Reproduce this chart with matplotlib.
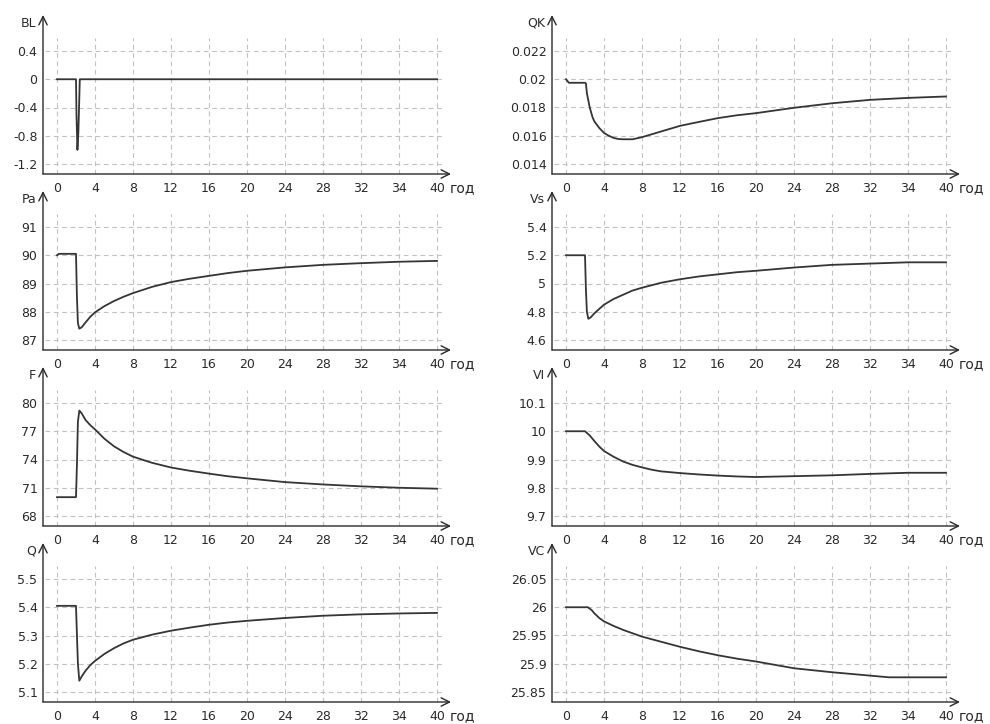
import matplotlib
matplotlib.use('Agg')
import matplotlib.pyplot as plt

plt.rcParams['font.family'] = 'DejaVu Sans'
plt.rcParams['lines.scale_dashes'] = False

# time axis (years)
x_ticks = [0, 4, 8, 12, 16, 20, 24, 28, 32, 36, 40]
x_labels = ['0', '4', '8', '12', '16', '20', '24', '28', '32', '34', '40']

BL_t = [0, 2.0, 2.05, 2.15, 2.25, 2.35, 2.4, 40]
BL = [0, 0, -0.5, -1.0, -0.75, -0.25, 0, 0]
BL_ticks = [-1.2, -0.8, -0.4, 0, 0.4]

QK_t = [0, 0.3, 2.0, 2.1, 2.2, 2.5, 2.8, 3, 3.5, 4, 4.5, 5, 5.5, 6, 7, 8, 10, 12, 14, 16,
        18, 20, 24, 28, 32, 36, 40]
QK = [0.0200, 0.01975, 0.01975, 0.0197, 0.0190, 0.0180, 0.0173, 0.0170, 0.01655, 0.0162,
      0.0160, 0.01585, 0.01577, 0.01575, 0.01575, 0.0159, 0.0163, 0.0167, 0.01698, 0.01725,
      0.01745, 0.0176, 0.01798, 0.0183, 0.01854, 0.01868, 0.01878]
QK_ticks = [0.014, 0.016, 0.018, 0.02, 0.022]

# shared sample times for the step-response curves
S_t = [2.35, 2.6, 3, 3.5, 4, 5, 6, 7, 8, 10, 12, 14, 16, 18, 20, 24, 28, 32, 36, 40]

Pa_t = [0, 0.2, 2.0, 2.1, 2.2] + S_t
Pa = [90.0, 90.05, 90.05, 88.5, 87.6,
      87.4, 87.45, 87.62, 87.82, 87.98, 88.2, 88.38, 88.53, 88.66, 88.88, 89.05, 89.17,
      89.27, 89.37, 89.45, 89.57, 89.66, 89.72, 89.77, 89.8]
Pa_ticks = [87, 88, 89, 90, 91]

Vs_t = [0, 0.2, 2.0, 2.1, 2.2] + S_t
Vs = [5.2, 5.2, 5.2, 4.95, 4.8,
      4.75, 4.76, 4.79, 4.82, 4.85, 4.89, 4.92, 4.95, 4.97, 5.005, 5.03, 5.05, 5.065,
      5.08, 5.09, 5.113, 5.132, 5.141, 5.15, 5.15]
Vs_ticks = [4.6, 4.8, 5, 5.2, 5.4]

F_t = [0, 2.0, 2.1, 2.2] + S_t
F = [70.0, 70.0, 73.5, 78.0,
     79.2, 78.9, 78.2, 77.65, 77.2, 76.2, 75.4, 74.8, 74.3, 73.65, 73.15, 72.8, 72.5,
     72.22, 72.0, 71.6, 71.35, 71.15, 71.0, 70.9]
F_ticks = [68, 71, 74, 77, 80]

VI_t = [0, 2.0, 2.5, 3, 3.5, 4, 5, 6, 7, 8, 9, 10, 12, 14, 16, 18, 20, 24, 28, 32, 36, 40]
VI = [10.0, 10.0, 9.985, 9.965, 9.946, 9.93, 9.91, 9.893, 9.881, 9.872, 9.864, 9.858,
      9.852, 9.847, 9.843, 9.84, 9.838, 9.841, 9.844, 9.849, 9.853, 9.853]
VI_ticks = [9.7, 9.8, 9.9, 10, 10.1]

Q_t = [0, 2.0, 2.1, 2.2] + S_t
Q = [5.405, 5.405, 5.30, 5.20,
     5.14, 5.155, 5.175, 5.195, 5.21, 5.235, 5.255, 5.272, 5.285, 5.303, 5.317, 5.328,
     5.338, 5.346, 5.352, 5.362, 5.37, 5.375, 5.378, 5.38]
Q_ticks = [5.1, 5.2, 5.3, 5.4, 5.5]

VC_t = [0, 2.3, 2.7, 3, 3.5, 4, 5, 6, 7, 8, 10, 12, 14, 16, 18, 20, 24, 28, 32, 34, 40]
VC = [26.0, 26.0, 25.995, 25.989, 25.981, 25.975, 25.967, 25.96, 25.954, 25.948, 25.939,
      25.93, 25.922, 25.915, 25.909, 25.904, 25.892, 25.885, 25.879, 25.876, 25.876]
VC_ticks = [25.85, 25.9, 25.95, 26, 26.05]

panels = [
    (0, 0, 'BL', BL_t, BL, BL_ticks),
    (1, 0, 'QK', QK_t, QK, QK_ticks),
    (0, 1, 'Pa', Pa_t, Pa, Pa_ticks),
    (1, 1, 'Vs', Vs_t, Vs, Vs_ticks),
    (0, 2, 'F', F_t, F, F_ticks),
    (1, 2, 'VI', VI_t, VI, VI_ticks),
    (0, 3, 'Q', Q_t, Q, Q_ticks),
    (1, 3, 'VC', VC_t, VC, VC_ticks),
]

W, H = 990, 724
col_left = [43, 552]          # y axis position, px
row_bottom = [174, 350, 526, 702]  # x axis position, px
ax_w, ax_h = 408, 159
px_x = 9.5     # px per year
px_tick = 28.25  # px between y gridlines

ink = '#2a2a2a'
grid_c = '#c2c2c2'
dash = (0, (3.4, 2.6))

fig = plt.figure(figsize=(W / 100, H / 100), dpi=100)

for col, row, name, t, y, ticks in panels:
    ax = fig.add_axes([col_left[col] / W, 1 - row_bottom[row] / H, ax_w / W, ax_h / H])
    d = ticks[1] - ticks[0]
    x0 = -14 / px_x
    ax.set_xlim(x0, x0 + ax_w / px_x)
    y0 = ticks[0] - d * 10 / px_tick
    ax.set_ylim(y0, y0 + d * ax_h / px_tick)
    ax.patch.set_visible(False)
    for s in ax.spines.values():
        s.set_visible(False)

    ax.hlines(ticks, -1.3, 40.6, colors=grid_c, linestyles=dash, lw=0.8)
    ax.vlines(x_ticks, y0, ticks[-1] + d * 13 / px_tick, colors=grid_c, linestyles=dash, lw=0.8)

    ax.plot(t, y, color='#353535', lw=1.3)

    ax.set_xticks(x_ticks, x_labels)
    ax.set_yticks(ticks, [f'{v:g}' for v in ticks])
    ax.tick_params(axis='x', length=0, labelsize=9, labelcolor=ink, pad=5.5)
    ax.tick_params(axis='y', length=0, labelsize=9, labelcolor=ink, pad=4)

    arrow = dict(arrowstyle='->,head_length=0.6,head_width=0.3', color=ink, lw=1.0,
                 shrinkA=0, shrinkB=0)
    ax.annotate('', xy=(1, 0), xytext=(0, 0), xycoords='axes fraction', arrowprops=arrow)
    ax.annotate('', xy=(0, 1), xytext=(0, 0), xycoords='axes fraction', arrowprops=arrow)

    ax.annotate(name, xy=(0, 1), xycoords='axes fraction', xytext=(-5, -6),
                textcoords='offset points', ha='right', va='center', fontsize=9, color=ink)
    ax.annotate('год', xy=(40, 0), xycoords=('data', 'axes fraction'), xytext=(9, -5),
                textcoords='offset points', ha='left', va='top', fontsize=10, color=ink)

fig.savefig('out.png', dpi=100)
